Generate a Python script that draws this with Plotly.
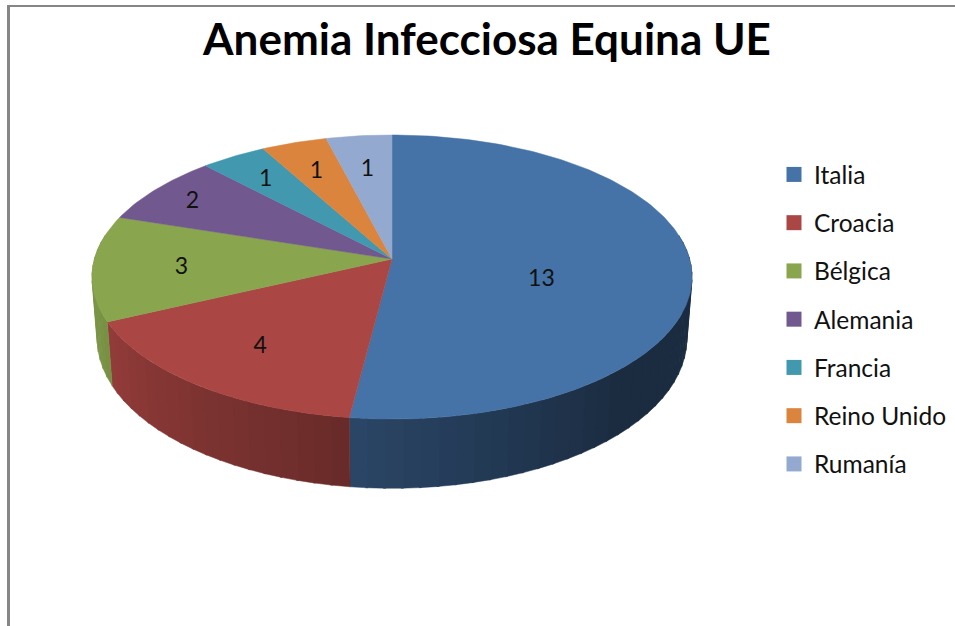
import numpy as np
import plotly.graph_objects as go

# ---- data ----
TITLE = "Anemia Infecciosa Equina UE"
categories = ["Italia", "Croacia", "Bélgica", "Alemania", "Francia", "Reino Unido", "Rumanía"]
values = [13, 4, 3, 2, 1, 1, 1]

# ---- style ----
colors = ["#4572A7", "#AA4643", "#89A54E", "#71588F", "#4198AF", "#DB843D", "#93A9CF"]
FONT = "Lato"
LABEL_RADIUS = [0.51, 0.70, 0.705, 0.84, 0.78, 0.75, 0.72]
LABEL_TURN = [10.8, 0, 0, 0, 0, 0, 0]
LABEL_DROP = 3.0

# ---- 3D projection (screen pixels) ----
CX, APEX_Y, KX, KY, PERSP = 392.0, 259.0, 297.6, 106.9, -0.1268
DEPTH, BASE_SCALE = 60.5, 0.983


def top_xy(t_deg, r=1.0):
    t = np.radians(t_deg)
    u, v = r * np.sin(t), -r * np.cos(t)
    den = 1 + PERSP * v
    return CX + KX * u / den, (KY * v + APEX_Y) / den


def base_xy(t_deg):
    x, y = top_xy(t_deg)
    v = -np.cos(np.radians(t_deg))
    return CX + (x - CX) * BASE_SCALE, y + DEPTH / (1 + PERSP * v)


def shade(hex_color, t_mid):
    f = float(np.clip(0.61 + (t_mid - 187.0) * 0.0044, 0.39, 0.90))
    rgb = [int(hex_color[i:i + 2], 16) for i in (1, 3, 5)]
    return "rgb({},{},{})".format(*[round(c * f) for c in rgb])


total = sum(values)
edges = np.concatenate([[0.0], np.cumsum(values)]) * 360.0 / total

fig = go.Figure()

# side wall, banded so that the shading graduates
for i, color in enumerate(colors):
    a, b = edges[i], edges[i + 1]
    lo, hi = max(a, 80.0), min(b, 280.0)
    if hi <= lo:
        continue
    steps = max(1, int((hi - lo) // 3))
    marks = np.linspace(lo, hi, steps + 1)
    for s, e in zip(marks[:-1], marks[1:]):
        ts = np.array([s, e + 0.4 if e < hi else e])
        tx, ty = top_xy(ts)
        bx, by = base_xy(ts[::-1])
        c = shade(color, (s + e) / 2)
        fig.add_trace(go.Scatter(
            x=np.r_[tx, bx, tx[0]], y=np.r_[ty, by, ty[0]], mode="lines",
            fill="toself", fillcolor=c, line=dict(width=0.5, color=c),
            hoverinfo="skip", showlegend=False))

# top face
for i, (name, color) in enumerate(zip(categories, colors)):
    ts = np.linspace(edges[i], edges[i + 1], max(3, int(edges[i + 1] - edges[i]) + 1))
    ax, ay = top_xy(ts)
    ox, oy = top_xy(0.0, 0.0)
    fig.add_trace(go.Scatter(
        x=np.r_[ox, ax, ox], y=np.r_[oy, ay, oy], mode="lines", fill="toself",
        fillcolor=color, line=dict(width=0.5, color=color),
        name=name, text=name, hoverinfo="text", showlegend=False))

# data labels
mids = (edges[:-1] + edges[1:]) / 2 + np.array(LABEL_TURN)
lx, ly = top_xy(mids, np.array(LABEL_RADIUS))
fig.add_trace(go.Scatter(
    x=lx, y=ly + LABEL_DROP, mode="text", text=[str(v) for v in values],
    textposition="middle center", textfont=dict(family=FONT, size=23, color="#111111"),
    hoverinfo="skip", showlegend=False))

# legend entries
for name, color in zip(categories, colors):
    fig.add_trace(go.Scatter(
        x=[None], y=[None], mode="markers", name=name, legendgroup=name,
        marker=dict(symbol="square", size=15, color=color)))

fig.update_layout(
    width=955, height=626, margin=dict(l=0, r=0, t=0, b=0),
    paper_bgcolor="white", plot_bgcolor="white",
    xaxis=dict(range=[0, 955], visible=False, fixedrange=True),
    yaxis=dict(range=[626, 0], visible=False, fixedrange=True),
    title=dict(text=TITLE, x=487 / 955, xanchor="center", y=1 - 40 / 626, yanchor="middle",
               font=dict(family=FONT, size=44, color="black", weight="bold")),
    legend=dict(x=774 / 955, y=1 - 152 / 626, xanchor="left", yanchor="top",
                font=dict(family=FONT, size=24.5, color="#111111"),
                tracegroupgap=13.4, itemclick=False, itemdoubleclick=False,
                bgcolor="rgba(0,0,0,0)"),
    shapes=[
        dict(type="line", xref="paper", yref="paper", x0=8.5 / 955, x1=8.5 / 955,
             y0=0, y1=1 - 6 / 626, line=dict(color="#868686", width=3)),
        dict(type="line", xref="paper", yref="paper", x0=7 / 955, x1=1,
             y0=1 - 6 / 626, y1=1 - 6 / 626, line=dict(color="#868686", width=2)),
    ],
)

fig.write_html("out.html", config=dict(displayModeBar=False),
               post_script="document.body.style.margin='0';window.dispatchEvent(new Event('resize'));")
